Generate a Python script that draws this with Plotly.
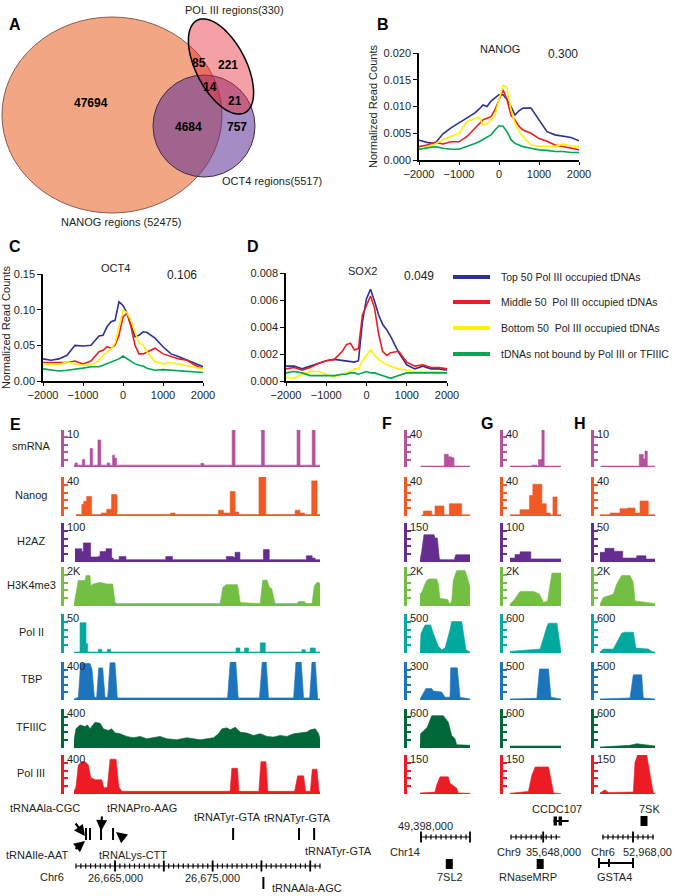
import numpy as np
import plotly.graph_objects as go

W, H = 679, 896
FONT = "Liberation Sans, Arial, Helvetica, sans-serif"
TXT = "#231f20"

# ================= DATA =================
# Panel A - Venn
venn_counts = ["47694", "85", "221", "14", "21", "4684", "757"]
venn_set_labels = ["NANOG regions (52475)", "OCT4 regions(5517)", "POL III regions(330)"]

# Panels B-D - average profiles around tDNAs
prof_x = [-2000, -1800, -1600, -1400, -1200, -1000, -800, -600, -500, -400, -300, -200, -100, 0,
          100, 200, 300, 400, 500, 600, 800, 1000, 1200, 1400, 1600, 1800, 2000]
series_names = ["Top 50 Pol III occupied tDNAs", "Middle 50  Pol III occupied tDNAs",
                "Bottom 50  Pol III occupied tDNAs", "tDNAs not bound by Pol III or TFIIIC"]
series_colors = ["#2e3192", "#ed1c24", "#fff200", "#00a651"]

nanog_top = [0.0037, 0.0033, 0.0031, 0.0049, 0.0060, 0.0069, 0.0078, 0.0088, 0.0095, 0.0103, 0.0100, 0.0110, 0.0116, 0.0122,
             0.0122, 0.0113, 0.0100, 0.0084, 0.0092, 0.0097, 0.0097, 0.0075, 0.0053, 0.0047, 0.0045, 0.0042, 0.0036]
nanog_mid = [0.0025, 0.0028, 0.0033, 0.0030, 0.0034, 0.0034, 0.0044, 0.0060, 0.0068, 0.0075, 0.0078, 0.0081, 0.0094, 0.0113,
             0.0131, 0.0113, 0.0084, 0.0075, 0.0063, 0.0056, 0.0050, 0.0040, 0.0035, 0.0028, 0.0025, 0.0022, 0.0019]
nanog_bot = [0.0019, 0.0025, 0.0030, 0.0038, 0.0044, 0.0050, 0.0072, 0.0078, 0.0080, 0.0066, 0.0068, 0.0075, 0.0084, 0.0113,
             0.0139, 0.0136, 0.0094, 0.0069, 0.0053, 0.0044, 0.0028, 0.0026, 0.0025, 0.0025, 0.0030, 0.0026, 0.0025]
nanog_unb = [0.0020, 0.0023, 0.0025, 0.0022, 0.0020, 0.0020, 0.0025, 0.0031, 0.0034, 0.0038, 0.0042, 0.0047, 0.0056, 0.0064,
             0.0063, 0.0053, 0.0038, 0.0031, 0.0028, 0.0025, 0.0022, 0.0019, 0.0018, 0.0016, 0.0016, 0.0014, 0.0014]

oct4_top = [0.031, 0.029, 0.031, 0.036, 0.050, 0.049, 0.050, 0.063, 0.064, 0.076, 0.083, 0.085, 0.111, 0.106,
            0.095, 0.078, 0.062, 0.064, 0.069, 0.068, 0.060, 0.048, 0.038, 0.034, 0.029, 0.024, 0.020]
oct4_mid = [0.026, 0.026, 0.027, 0.026, 0.028, 0.024, 0.028, 0.041, 0.043, 0.048, 0.046, 0.050, 0.064, 0.090,
            0.095, 0.076, 0.050, 0.038, 0.038, 0.041, 0.046, 0.038, 0.034, 0.031, 0.029, 0.022, 0.017]
oct4_bot = [0.022, 0.024, 0.023, 0.027, 0.024, 0.022, 0.022, 0.029, 0.036, 0.041, 0.045, 0.053, 0.076, 0.099,
            0.096, 0.085, 0.069, 0.053, 0.051, 0.041, 0.027, 0.024, 0.026, 0.024, 0.022, 0.020, 0.017]
oct4_unb = [0.017, 0.015, 0.014, 0.015, 0.016, 0.018, 0.020, 0.020, 0.022, 0.024, 0.027, 0.028, 0.031, 0.035,
            0.031, 0.028, 0.024, 0.022, 0.021, 0.018, 0.015, 0.016, 0.015, 0.015, 0.014, 0.013, 0.012]

sox2_top = [0.0011, 0.0011, 0.0009, 0.0011, 0.0013, 0.0015, 0.0016, 0.0015, 0.0015, 0.0014, 0.0014, 0.0015, 0.0044, 0.0061,
            0.0068, 0.0059, 0.0049, 0.0042, 0.0038, 0.0033, 0.0021, 0.0012, 0.0009, 0.0011, 0.0009, 0.0009, 0.0008]
sox2_mid = [0.0009, 0.0010, 0.0008, 0.0010, 0.0013, 0.0015, 0.0016, 0.0022, 0.0027, 0.0028, 0.0023, 0.0024, 0.0049, 0.0056,
            0.0063, 0.0054, 0.0035, 0.0022, 0.0019, 0.0021, 0.0022, 0.0014, 0.0011, 0.0012, 0.0010, 0.0010, 0.0009]
sox2_bot = [0.0003, 0.0002, 0.0005, 0.0007, 0.0007, 0.0005, 0.0003, 0.0005, 0.0006, 0.0007, 0.0009, 0.0009, 0.0015, 0.0019,
            0.0023, 0.0019, 0.0016, 0.0014, 0.0012, 0.0011, 0.0009, 0.0008, 0.0007, 0.0007, 0.0007, 0.0007, 0.0006]
sox2_unb = [0.0006, 0.0007, 0.0006, 0.0004, 0.0004, 0.0004, 0.0004, 0.0005, 0.0005, 0.0006, 0.0006, 0.0005, 0.0006, 0.0007,
            0.0006, 0.0006, 0.0005, 0.0004, 0.0003, 0.0002, 0.0004, 0.0006, 0.0006, 0.0006, 0.0006, 0.0006, 0.0006]

# Panels E-H - genome browser tracks
track_names = ["smRNA", "Nanog", "H2AZ", "H3K4me3", "Pol II", "TBP", "TFIIIC", "Pol III"]
track_colors = ["#b5519d", "#f15a24", "#662d91", "#72bf44", "#00a99d", "#1c75bc", "#006838", "#ed1c24"]

e_max = [10, 40, 100, 2000, 50, 400, 400, 400]
e_scale = ["10", "40", "100", "2K", "50", "400", "400", "400"]
f_max = [40, 40, 150, 2000, 500, 300, 600, 150]
f_scale = ["40", "40", "150", "2K", "500", "300", "600", "150"]
g_max = [40, 40, 100, 2000, 600, 500, 600, 150]
g_scale = ["40", "40", "100", "2K", "600", "500", "600", "150"]
h_max = [10, 40, 50, 2000, 600, 500, 600, 150]
h_scale = ["10", "40", "50", "2K", "600", "500", "600", "150"]

# E: positions in kb from chr6:26,660,800
e_start_bp = 26660800
e_smrna_pos = [0.0, 0.1, 0.35, 0.85, 1.1, 1.65, 1.9, 2.45, 2.75, 3.4, 3.65, 3.95, 4.15, 4.35, 13.0, 13.3, 16.2, 16.5, 19.2, 19.5, 22.85, 23.15, 24.4, 24.7, 25.2]
e_smrna_val = [0.5, 1.1, 0.5, 2.0, 0.5, 5.0, 0.5, 7.3, 0.5, 1.1, 0.5, 3.2, 2.4, 0.5, 1.0, 0.5, 10, 0.5, 10, 0.5, 10, 0.5, 10, 0.5, 0.5]
e_nanog_pos = [0.2, 0.8, 1.0, 1.3, 1.8, 2.8, 3.35, 3.85, 4.4, 9.9, 10.35, 14.8, 15.3, 16.0, 16.5, 16.85, 18.95, 19.65, 22.65, 23.15, 23.6, 24.35, 24.9, 25.2]
e_nanog_val = [1.5, 12, 15, 20, 1.5, 3, 7, 22, 1.5, 3, 1.5, 6, 3, 25, 4, 1.5, 40, 1.5, 6, 3, 1.5, 36, 1.5, 1.5]
e_h2az_pos = [0.1, 0.8, 0.96, 1.7, 2.5, 2.67, 3.28, 3.86, 4.03, 4.62, 5.33, 9.4, 10.1, 15.6, 16.3, 16.5, 17.0, 19.4, 20.0, 23.8, 24.4, 24.7, 25.2]
e_h2az_val = [34, 27, 49, 13, 15, 27, 34, 10, 6, 14, 6, 14, 6, 14, 12, 25, 6, 32, 6, 16, 10, 6, 6]
e_h3k4_pos = [0, 0.2, 0.44, 1.13, 1.23, 1.64, 1.71, 1.98, 2.67, 3.35, 3.97, 4.2, 4.38, 14.97, 15.25, 15.59, 16.75, 17.03, 19.08, 19.32,
              19.76, 20.03, 20.27, 20.6, 22.84, 23.0, 23.59, 23.79, 24.38, 24.62, 24.9, 25.2]
e_h3k4_val = [87, 696, 1304, 1304, 1565, 1565, 1043, 1130, 1217, 1130, 1130, 174, 122, 122, 957, 1096, 1096, 174, 122, 1304,
              1339, 957, 870, 122, 122, 226, 226, 122, 122, 1043, 1217, 1165]
e_pol2_pos = [0, 0.62, 1.23, 1.4, 2.5, 2.84, 3.42, 3.76, 16.6, 17.0, 17.47, 17.88, 19.08, 19.6, 23.35, 23.69, 24.2, 24.72, 25.2]
e_pol2_val = [1.3, 38.8, 12, 1.3, 4.7, 1.3, 4.7, 1.3, 6.5, 1.3, 6.5, 1.3, 13, 1.3, 4.3, 1.3, 6.5, 1.3, 1.3]
e_tbp_pos = [0, 0.44, 0.68, 1.64, 1.85, 2.09, 2.32, 2.53, 2.94, 3.18, 3.45, 3.69, 4.2, 4.44, 15.73, 16.0, 16.58, 16.82, 19.0, 19.28,
             19.69, 19.93, 22.5, 22.74, 23.28, 23.52, 24.14, 24.38, 24.72, 24.96, 25.2]
e_tbp_val = [11, 29, 385, 385, 320, 29, 29, 338, 338, 29, 29, 393, 393, 22, 22, 400, 400, 22, 22, 400,
             400, 22, 22, 400, 400, 22, 22, 400, 400, 11, 11]
e_tf3c_pos = [0, 0.2, 0.62, 1.13, 1.37, 1.64, 2.15, 2.67, 3.01, 3.52, 3.86, 4.2, 4.72, 5.4, 6.09, 6.77, 7.45, 8.14, 8.82, 9.5,
              10.53, 11.56, 12.92, 14.29, 14.8, 15.15, 15.66, 16.0, 16.51, 17.03, 17.71, 18.39, 19.08, 19.76, 20.44, 21.13, 21.81,
              22.5, 23.18, 23.86, 24.21, 24.72, 25.06, 25.2]
e_tf3c_val = [78, 197, 237, 220, 237, 197, 264, 254, 197, 180, 197, 156, 146, 119, 105, 119, 95, 105, 119, 95,
              85, 105, 85, 105, 146, 197, 207, 186, 214, 163, 153, 129, 146, 119, 112, 129, 119,
              146, 153, 163, 186, 197, 146, 95]
e_pol3_pos = [0, 0.2, 0.44, 0.79, 1.13, 1.47, 1.71, 2.15, 2.84, 3.08, 3.42, 3.69, 4.31, 4.58, 4.89, 15.99, 16.17, 16.75, 16.89, 18.94,
              19.15, 19.66, 19.86, 22.6, 22.91, 23.52, 23.73, 24.21, 24.41, 24.89, 25.1, 25.2]
e_pol3_val = [27, 71, 298, 332, 332, 298, 173, 146, 146, 61, 71, 356, 356, 78, 27, 27, 264, 264, 27, 27,
              332, 332, 27, 27, 186, 186, 27, 27, 254, 254, 27, 17]

# F (7SL2 locus), positions in 100-bp bins
f_smrna_pos = [0, 1, 24.3, 28.3, 31.7, 34, 50]
f_smrna_val = [0, 1, 13.7, 11, 10, 1, 1]
f_nanog_pos = [1.7, 3.5, 11.7, 15, 24, 29.3, 41.7, 50]
f_nanog_val = [1.2, 5.1, 1.2, 10.3, 1.2, 12.6, 1.2, 1.2]
f_h2az_pos = [0, 1.7, 4, 14, 15, 17.3, 19.3, 20, 34.3, 35.7, 50]
f_h2az_val = [6, 41, 105, 105, 92, 92, 15, 9, 9, 28, 28]
f_h3k4_pos = [0, 1.7, 5, 6.7, 9.3, 16.7, 18.3, 20, 27.3, 30, 31.7, 33.3, 36.7, 45, 48.3, 50]
f_h3k4_val = [609, 696, 1130, 1304, 1391, 1391, 1130, 383, 348, 87, 261, 1304, 1826, 1826, 1304, 957]
f_pol2_pos = [0, 1, 5, 10.7, 13.3, 18.3, 21.7, 25, 30, 31.7, 41.7, 46, 50]
f_pol2_val = [8, 254, 360, 360, 254, 85, 42, 64, 297, 403, 403, 42, 13]
f_tbp_pos = [0, 3.3, 6, 11.7, 13.3, 21.7, 25, 30, 30.7, 37.3, 40, 50]
f_tbp_val = [8, 49, 90, 90, 71, 63, 22, 22, 254, 254, 22, 8]
f_tf3c_pos = [0, 0.5, 7.3, 11.7, 23.3, 28.3, 31.7, 35, 36.7, 50]
f_tf3c_val = [41, 219, 320, 498, 498, 397, 193, 142, 51, 41]
f_pol3_pos = [0, 15, 16.7, 20, 28.3, 30, 36.7, 38.3, 50]
f_pol3_val = [4, 7.5, 35, 66, 66, 41, 22.5, 4, 2.5]

# G (RNaseMRP locus)
g_smrna_pos = [0, 21.7, 26.7, 28.3, 31.7, 34, 50.7]
g_smrna_val = [1, 2, 1, 8, 40, 1, 1]
g_nanog_pos = [0, 10, 19.3, 22.7, 31.7, 36, 40, 42.7, 46.7, 50.7]
g_nanog_val = [1.4, 6.5, 21, 32.5, 12.6, 3, 1.4, 19.5, 1.4, 1.4]
g_h2az_pos = [0, 5, 10, 20.7, 50.7]
g_h2az_val = [10, 19, 26, 8, 8]
g_h3k4_pos = [0, 3.3, 10, 23.3, 29.3, 33.3, 37.3, 40, 41.7, 50.7]
g_h3k4_val = [87, 261, 748, 748, 609, 174, 261, 1304, 1687, 1687]
g_pol2_pos = [0, 10, 23.3, 30, 36.7, 38.3, 46.7, 50, 50.7]
g_pol2_val = [25, 36, 61, 61, 407, 458, 458, 10, 10]
g_tbp_pos = [0, 26.7, 29.3, 38.3, 40.7, 50.7]
g_tbp_val = [14, 23, 409, 409, 36, 14]
g_tf3c_pos = [0, 50.7]
g_tf3c_val = [30, 30]
g_pol3_pos = [0, 18.3, 21.7, 25, 38.3, 41.7, 43.3, 50.7]
g_pol3_val = [2.5, 10, 72.5, 104, 104, 35, 4, 1.3]

# H (7SK locus)
h_smrna_pos = [0.7, 39.3, 43.3, 45, 47.3, 55]
h_smrna_val = [0.25, 3.4, 2.2, 4.3, 0.25, 0.25]
h_nanog_pos = [0, 10, 20, 27.3, 35, 40, 48.3, 55]
h_nanog_val = [1.4, 3, 7.5, 8.2, 3, 15.4, 1.4, 1.4]
h_h2az_pos = [0, 5, 14, 22.7, 36.7, 46, 55]
h_h2az_val = [12.4, 17.5, 13.7, 5, 8, 3.8, 3.8]
h_h3k4_pos = [0, 3.3, 8.3, 13.3, 16.7, 21.7, 30, 33.3, 35, 41.7, 45, 55]
h_h3k4_val = [87, 435, 522, 609, 1130, 1565, 1565, 1217, 261, 226, 174, 122]
h_pol2_pos = [0, 3.3, 13.3, 18.3, 21.7, 25, 33.3, 36, 41.7, 48.3, 51.7, 55]
h_pol2_val = [15, 61, 61, 203, 305, 320, 320, 76, 66, 61, 25, 15]
h_tbp_pos = [0, 30, 33.3, 41.7, 43.3, 55]
h_tbp_val = [14, 27, 332, 332, 27, 14]
h_tf3c_pos = [0, 30, 36.7, 43.3, 55]
h_tf3c_val = [15, 41, 66, 51, 31]
h_pol3_pos = [0, 5, 8.3, 33.3, 35, 37.7, 46.7, 51.7, 53.3, 55]
h_pol3_val = [4, 16, 6, 7.5, 122, 150, 150, 41, 4, 2.5]

# E gene annotations (kb from region start)
e_trna_kb = [1.23, 1.64, 2.77, 4.0, 16.3, 23.05, 24.6]
e_trna_ala_agc_kb = 19.4
e_ruler_labels_bp = [26665000, 26675000]

# ================= FIGURE =================
layout = dict(template="none", width=W, height=H,
              margin=dict(l=0, r=0, t=0, b=0, pad=0, autoexpand=False),
              paper_bgcolor="white", plot_bgcolor="rgba(0,0,0,0)", showlegend=False,
              font=dict(family=FONT, size=11, color=TXT))
traces, annotations, shapes = [], [], []
axis_n = [0]
HID = dict(visible=False, showgrid=False, zeroline=False, fixedrange=True, automargin=False)


def new_axes(xpx, ypx, xkw, ykw):
    axis_n[0] += 1
    n = axis_n[0]
    s = "" if n == 1 else str(n)
    xr, yr = "x" + s, "y" + s
    xa = dict(domain=[xpx[0] / W, xpx[1] / W], anchor=yr, automargin=False)
    xa.update(xkw)
    ya = dict(domain=[1 - ypx[1] / H, 1 - ypx[0] / H], anchor=xr, automargin=False)
    ya.update(ykw)
    layout["xaxis" + s] = xa
    layout["yaxis" + s] = ya
    return xr, yr


def ann(text, x, y, size=11, xref="paper", yref="paper", xanchor="center", yanchor="middle", bold=False, color=TXT):
    if xref == "paper":
        x = x / W
    if yref == "paper":
        y = 1 - y / H
    annotations.append(dict(text=("<b>%s</b>" % text) if bold else text, x=x, y=y, xref=xref, yref=yref,
                            xanchor=xanchor, yanchor=yanchor, showarrow=False,
                            font=dict(size=size, color=color, family=FONT)))


# ---------- Panel A: Venn ----------
vx, vy = new_axes((0, 340), (0, 235), dict(HID, range=[0, 340]), dict(HID, range=[235, 0]))
shapes.append(dict(type="circle", xref=vx, yref=vy, x0=2, x1=222, y0=17, y1=213,
                   fillcolor="rgb(243,166,132)", line=dict(color="#8c5a48", width=1)))
shapes.append(dict(type="circle", xref=vx, yref=vy, x0=153, x1=255, y0=75, y1=177,
                   fillcolor="rgba(93,46,148,0.55)", line=dict(color="#3d2d4a", width=1)))
cx, cy, ea, eb = 221, 66.5, 52, 25
ang = np.arctan2(93, 48)
tt = np.linspace(0, 2 * np.pi, 90)
ex = cx + ea * np.cos(tt) * np.cos(ang) - eb * np.sin(tt) * np.sin(ang)
ey = cy + ea * np.cos(tt) * np.sin(ang) + eb * np.sin(tt) * np.cos(ang)
path = "M " + " L ".join("%.2f,%.2f" % (a, b) for a, b in zip(ex, ey)) + " Z"
shapes.append(dict(type="path", xref=vx, yref=vy, path=path, fillcolor="rgba(230,44,57,0.45)",
                   line=dict(color="black", width=1.5)))
venn_pos = [(91, 103), (199, 63), (228, 65), (210, 87), (235, 101), (188, 127), (237, 127)]
for t, (px_, py_) in zip(venn_counts, venn_pos):
    ann(t, px_, py_, size=12, xref=vx, yref=vy, bold=True, color="black")
ann(venn_set_labels[0], 121, 222, size=11)
ann(venn_set_labels[1], 272, 181, size=11)
ann(venn_set_labels[2], 234, 10, size=11)

# ---------- Panels B-D: profiles ----------
def add_profile(xpx, ypx, ymax, tvals, fmt, ys, ytitle):
    xkw = dict(range=[-2000, 2000], tickvals=[-2000, -1000, 0, 1000, 2000], showline=True, linecolor="black",
               linewidth=1.5, ticks="outside", ticklen=3, tickcolor="black", tickfont=dict(size=11, color=TXT),
               showgrid=False, zeroline=False, fixedrange=True)
    ykw = dict(range=[0, ymax], tickvals=tvals, tickformat=fmt, showline=True, linecolor="black", linewidth=1.5,
               ticks="outside", ticklen=4, tickcolor="black", tickfont=dict(size=11, color=TXT),
               showgrid=False, zeroline=False, fixedrange=True)
    if ytitle:
        ykw["title"] = dict(text="Normalized Read Counts", font=dict(size=11, color=TXT), standoff=4)
    xr, yr = new_axes(xpx, ypx, xkw, ykw)
    for vals, col in zip(ys, series_colors):
        traces.append(go.Scatter(x=prof_x, y=vals, mode="lines", line=dict(color=col, width=1.6),
                                 xaxis=xr, yaxis=yr, hoverinfo="skip"))


add_profile((419, 579), (53, 160), 0.020, [0, 0.005, 0.010, 0.015, 0.020], ".3f",
            [nanog_top, nanog_mid, nanog_bot, nanog_unb], True)
add_profile((43, 203), (274, 381), 0.15, [0, 0.05, 0.10, 0.15], ".2f",
            [oct4_top, oct4_mid, oct4_bot, oct4_unb], True)
add_profile((286, 447), (273, 381), 0.008, [0, 0.002, 0.004, 0.006, 0.008], ".3f",
            [sox2_top, sox2_mid, sox2_bot, sox2_unb], False)
ann("NANOG", 500, 49)
ann("0.300", 563, 54, size=12)
ann("OCT4", 115, 268)
ann("0.106", 182, 275, size=12)
ann("SOX2", 362, 271)
ann("0.049", 419, 276, size=12)

# legend
for i, (nm, col) in enumerate(zip(series_names, series_colors)):
    yy = [277, 302, 328, 354][i]
    shapes.append(dict(type="line", xref="paper", yref="paper", x0=453 / W, x1=490 / W,
                       y0=1 - yy / H, y1=1 - yy / H, line=dict(color=col, width=4)))
    ann(nm, 499, yy, size=10.5, xanchor="left")

# ---------- Panels E-H: tracks ----------
rows_px = [(430, 467), (477, 516), (523, 562), (567, 606), (614, 653), (662, 700), (709, 748), (755, 794)]


def add_track(col_px, bar_x, xrange_, row, pos, val, ymax, color, scale_txt, shape):
    ykw = dict(range=[0, ymax], anchor="free", position=bar_x / W, showline=True, linecolor=color, linewidth=3,
               ticks="inside", tickvals=[ymax * k / 5 for k in range(1, 6)], ticklen=4, tickwidth=1.5,
               tickcolor=color, showticklabels=False, showgrid=False, zeroline=False, fixedrange=True)
    xr, yr = new_axes(col_px, row, dict(HID, range=xrange_), ykw)
    traces.append(go.Scatter(x=pos, y=val, mode="lines", line=dict(color=color, width=0.6, shape=shape),
                             fill="tozeroy", fillcolor=color, xaxis=xr, yaxis=yr, hoverinfo="skip"))
    ann(scale_txt, bar_x + 2.5, row[0] - 4, size=11, xanchor="left", yanchor="top")


columns = [
    dict(px=(74, 320), bar=62, rng=[0, 25.2], mx=e_max, sc=e_scale,
         data=[(e_smrna_pos, e_smrna_val, "hv"), (e_nanog_pos, e_nanog_val, "hv"), (e_h2az_pos, e_h2az_val, "hv"),
               (e_h3k4_pos, e_h3k4_val, "linear"), (e_pol2_pos, e_pol2_val, "hv"), (e_tbp_pos, e_tbp_val, "linear"),
               (e_tf3c_pos, e_tf3c_val, "linear"), (e_pol3_pos, e_pol3_val, "linear")]),
    dict(px=(420, 470), bar=405, rng=[0, 50], mx=f_max, sc=f_scale,
         data=[(f_smrna_pos, f_smrna_val, "hv"), (f_nanog_pos, f_nanog_val, "hv"), (f_h2az_pos, f_h2az_val, "linear"),
               (f_h3k4_pos, f_h3k4_val, "linear"), (f_pol2_pos, f_pol2_val, "linear"), (f_tbp_pos, f_tbp_val, "linear"),
               (f_tf3c_pos, f_tf3c_val, "linear"), (f_pol3_pos, f_pol3_val, "linear")]),
    dict(px=(510, 561), bar=501, rng=[0, 50.7], mx=g_max, sc=g_scale,
         data=[(g_smrna_pos, g_smrna_val, "hv"), (g_nanog_pos, g_nanog_val, "hv"), (g_h2az_pos, g_h2az_val, "hv"),
               (g_h3k4_pos, g_h3k4_val, "linear"), (g_pol2_pos, g_pol2_val, "linear"), (g_tbp_pos, g_tbp_val, "linear"),
               (g_tf3c_pos, g_tf3c_val, "linear"), (g_pol3_pos, g_pol3_val, "linear")]),
    dict(px=(600, 655), bar=592, rng=[0, 55], mx=h_max, sc=h_scale,
         data=[(h_smrna_pos, h_smrna_val, "hv"), (h_nanog_pos, h_nanog_val, "hv"), (h_h2az_pos, h_h2az_val, "hv"),
               (h_h3k4_pos, h_h3k4_val, "linear"), (h_pol2_pos, h_pol2_val, "linear"), (h_tbp_pos, h_tbp_val, "linear"),
               (h_tf3c_pos, h_tf3c_val, "linear"), (h_pol3_pos, h_pol3_val, "linear")]),
]
for c in columns:
    for i in range(8):
        p, v, shp = c["data"][i]
        add_track(c["px"], c["bar"], c["rng"], rows_px[i], p, v, c["mx"][i], track_colors[i], c["sc"][i], shp)

for i, nm in enumerate(track_names):
    ann(nm, 31, (rows_px[i][0] + rows_px[i][1]) / 2 - 2, size=11)


# ---------- annotation axes (gene models + rulers) ----------
def ann_axes(col_px, rng, dom_px):
    scale = (col_px[1] - col_px[0]) / (rng[1] - rng[0])
    x0 = rng[0] + (dom_px[0] - col_px[0]) / scale
    x1 = rng[0] + (dom_px[1] - col_px[0]) / scale
    return new_axes(dom_px, (796, 896), dict(HID, range=[x0, x1]), dict(HID, range=[896, 796]))


def lines_trace(xr, yr, segs, width, color="black"):
    xs, ys = [], []
    for (xa, ya, xb, yb) in segs:
        xs += [xa, xb, None]
        ys += [ya, yb, None]
    traces.append(go.Scatter(x=xs, y=ys, mode="lines", line=dict(color=color, width=width),
                             xaxis=xr, yaxis=yr, hoverinfo="skip"))


def ruler(xr, yr, x0, x1, y, minors, majors, hmin=2.5, hmaj=5.5):
    segs = [(x0, y, x1, y)]
    segs += [(m, y - hmin, m, y + hmin) for m in minors]
    lines_trace(xr, yr, segs, 1.2)
    lines_trace(xr, yr, [(m, y - hmaj, m, y + hmaj) for m in majors], 1.8)


def arrow(xr, yr, hx, hy, tx, ty):
    annotations.append(dict(x=hx, y=hy, ax=tx, ay=ty, xref=xr, yref=yr, axref=xr, ayref=yr, text="",
                            showarrow=True, arrowhead=2, arrowsize=1, arrowwidth=2.2, arrowcolor="black"))


# E
exr, eyr = ann_axes((74, 320), [0, 25.2], (0, 340))
lines_trace(exr, eyr, [(g, 828, g, 840) for g in e_trna_kb] + [(e_trna_ala_agc_kb, 877, e_trna_ala_agc_kb, 889)], 2)
ruler(exr, eyr, 0.2, 25.2, 866, list(np.arange(0.2, 25.25, 0.5)),
      [(b - e_start_bp) / 1000 for b in [26665000, 26670000, 26675000, 26680000, 26685000]])
for b in e_ruler_labels_bp:
    ann(format(b, ","), (b - e_start_bp) / 1000, 878, xref=exr, yref=eyr)
ann("Chr6", -2.25, 877, xref=exr, yref=eyr)
ann("tRNAAla-CGC", -2.97, 808, xref=exr, yref=eyr)
ann("tRNAPro-AAG", 6.97, 808, xref=exr, yref=eyr)
ann("tRNATyr-GTA", 15.68, 817, xref=exr, yref=eyr)
ann("tRNATyr-GTA", 22.85, 818, xref=exr, yref=eyr)
ann("tRNAIle-AAT", -3.79, 855, xref=exr, yref=eyr)
ann("tRNALys-CTT", 6.05, 855, xref=exr, yref=eyr)
ann("tRNAAla-AGC", 20.1, 888, xref=exr, yref=eyr, xanchor="left")
ann("tRNATyr-GTA", 338, 851, size=11)
arrow(exr, eyr, 1.13, 836, 0.05, 822)
arrow(exr, eyr, 2.77, 831, 2.87, 815)
arrow(exr, eyr, 1.13, 841, 0.0, 850)
arrow(exr, eyr, 4.3, 832, 5.2, 839)

# F
fxr, fyr = ann_axes((420, 470), [0, 50], (380, 480))
ruler(fxr, fyr, 1, 50, 837, list(np.arange(1, 50.5, 5)), [1, 50])
ann("49,398,000", 5, 826, xref=fxr, yref=fyr)
ann("Chr14", -15, 852, xref=fxr, yref=fyr)
lines_trace(fxr, fyr, [(29.3, 859, 29.3, 869)], 7)
ann("7SL2", 30, 877, xref=fxr, yref=fyr)

# G
gxr, gyr = ann_axes((510, 561), [0, 50.7], (490, 590))
ruler(gxr, gyr, 1, 50, 837, list(np.arange(1, 50.5, 5)), [33])
ann("CCDC107", 47, 809, xref=gxr, yref=gyr)
lines_trace(gxr, gyr, [(43.3, 821, 58.3, 821)], 2)
lines_trace(gxr, gyr, [(43.3, 821, 46.7, 821), (48.3, 821, 51.7, 821)], 9)
ann("Chr9", -1, 852, xref=gxr, yref=gyr)
ann("35,648,000", 43, 852, xref=gxr, yref=gyr)
lines_trace(gxr, gyr, [(30, 859, 30, 869)], 7)
ann("RNaseMRP", 18, 877, xref=gxr, yref=gyr)

# H
hxr, hyr = ann_axes((600, 655), [0, 55], (580, 679))
ruler(hxr, hyr, 2, 54, 837, list(np.arange(3, 54.5, 5)), [33])
ann("7SK", 49, 809, xref=hxr, yref=hyr)
lines_trace(hxr, hyr, [(44, 816, 44, 826)], 7)
ann("Chr6", 3, 852, xref=hxr, yref=hyr)
ann("52,968,00", 47, 852, xref=hxr, yref=hyr)
lines_trace(hxr, hyr, [(-1, 863, 33, 863)], 2)
lines_trace(hxr, hyr, [(-1, 858, -1, 868), (33, 858, 33, 868), (9, 859, 9, 867)], 2)
ann("GSTA4", 14, 877, xref=hxr, yref=hyr)

# panel letters
for L, (lx, ly) in zip("ABCDEFGH", [(15, 24), (383, 24), (15, 247), (253, 247), (15, 424), (387, 423), (487, 423), (580, 423)]):
    ann(L, lx, ly, size=16, bold=True, color="black")

layout["annotations"] = annotations
layout["shapes"] = shapes
fig = go.Figure(data=traces)
fig.update_layout(**layout)
fig.write_html("out.html", config={"displayModeBar": False},
               post_script="document.body.style.margin='0';document.documentElement.style.margin='0';")
